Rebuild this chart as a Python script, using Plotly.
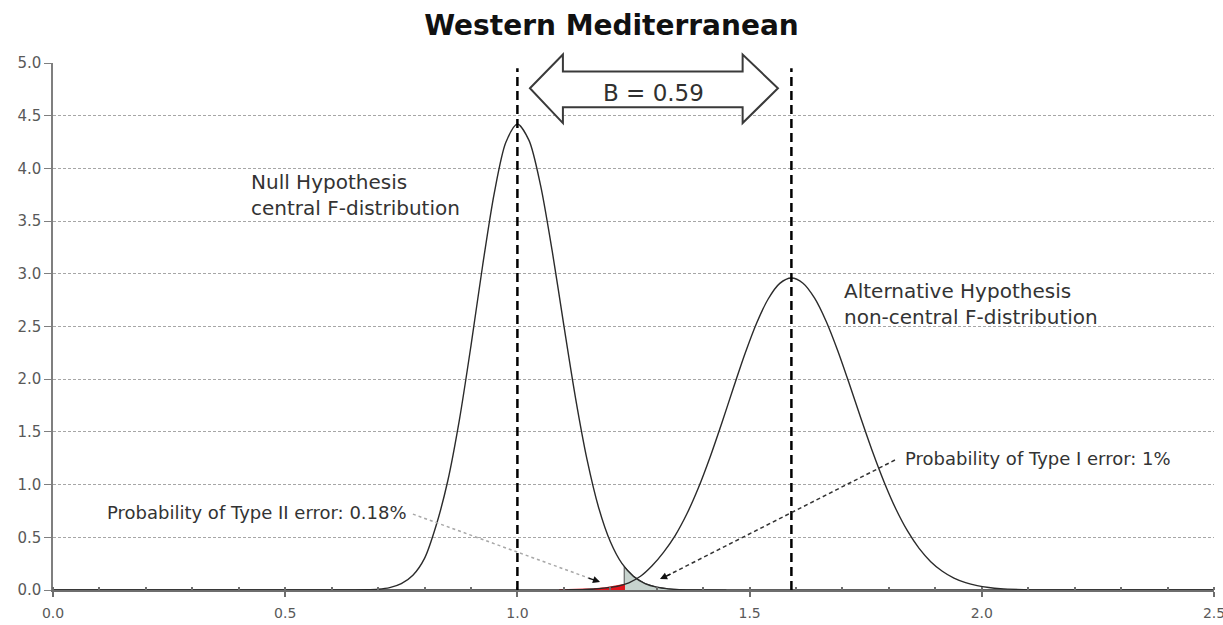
import plotly.graph_objects as go

# ---------------- data ----------------
null_x = [0.0, 0.6, 0.65, 0.675, 0.7, 0.725, 0.75, 0.775, 0.8, 0.825, 0.85, 0.875, 0.9,
          0.925, 0.95, 0.975, 1.0, 1.025, 1.05, 1.075, 1.1, 1.125, 1.15, 1.175, 1.2,
          1.225, 1.25, 1.275, 1.3, 1.325, 1.35, 1.4, 1.45, 1.5, 2.5]
null_y = [0.0, 0.0, 0.0005, 0.002, 0.007, 0.022, 0.06, 0.14, 0.30, 0.612, 1.034, 1.612, 2.317,
          3.074, 3.761, 4.245, 4.42, 4.266, 3.837, 3.215, 2.510, 1.826, 1.237, 0.781, 0.460,
          0.252, 0.129, 0.061, 0.027, 0.011, 0.004, 0.001, 0.0, 0.0, 0.0]

alt_x = [0.0, 1.0, 1.04, 1.09, 1.115, 1.14, 1.165, 1.19, 1.215, 1.24, 1.265, 1.29, 1.315,
         1.34, 1.365, 1.39, 1.415, 1.44, 1.465, 1.49, 1.515, 1.54, 1.565, 1.59, 1.615, 1.64,
         1.665, 1.69, 1.715, 1.74, 1.765, 1.79, 1.815, 1.84, 1.865, 1.89, 1.915, 1.94, 1.965,
         1.99, 2.015, 2.04, 2.09, 2.14, 2.19, 2.3, 2.5]
alt_y = [0.0, 0.0, 0.0, 0.0005, 0.002, 0.004, 0.009, 0.02, 0.035, 0.068, 0.13, 0.23, 0.36,
         0.519, 0.723, 0.972, 1.262, 1.582, 1.916, 2.241, 2.531, 2.761, 2.909, 2.96, 2.911, 2.769,
         2.548, 2.268, 1.952, 1.625, 1.309, 1.020, 0.768, 0.560, 0.395, 0.269, 0.178, 0.113, 0.070,
         0.042, 0.024, 0.013, 0.004, 0.001, 0.0, 0.0, 0.0]

# rejection region of the null (Type I error) and acceptance tail of the alternative (Type II error)
type1_x = [1.23, 1.23, 1.25, 1.275, 1.3, 1.325, 1.35, 1.4, 1.45]
type1_y = [0.0, 0.225, 0.129, 0.061, 0.027, 0.011, 0.004, 0.001, 0.0]
type2_x = [1.09, 1.115, 1.14, 1.165, 1.19, 1.215, 1.23, 1.23]
type2_y = [0.0005, 0.002, 0.004, 0.009, 0.02, 0.035, 0.05, 0.0]

null_mean = 1.0
alt_mean = 1.59
B = 0.59

title_text = "Western Mediterranean"
null_label = "Null Hypothesis<br>central F-distribution"
alt_label = "Alternative Hypothesis<br>non-central F-distribution"
type1_label = "Probability of Type I error: 1%"
type2_label = "Probability of Type II error: 0.18%"

x_ticks = [0.0, 0.5, 1.0, 1.5, 2.0, 2.5]
y_ticks = [0.0, 0.5, 1.0, 1.5, 2.0, 2.5, 3.0, 3.5, 4.0, 4.5, 5.0]

# ---------------- figure ----------------
FONT = "DejaVu Sans"
CURVE = "#2b2b2b"

fig = go.Figure()

fig.add_trace(go.Scatter(x=type1_x, y=type1_y, mode="lines", fill="toself",
                         fillcolor="#c7d3ce", line=dict(color="#4d4d4d", width=1),
                         hoverinfo="skip", showlegend=False))
fig.add_trace(go.Scatter(x=type2_x, y=type2_y, mode="lines", fill="toself",
                         fillcolor="#e3141c", line=dict(color="#e3141c", width=1.5),
                         hoverinfo="skip", showlegend=False))
fig.add_trace(go.Scatter(x=null_x, y=null_y, mode="lines", line=dict(color=CURVE, width=1.4, shape="spline", smoothing=0.8),
                         showlegend=False, name="Null"))
fig.add_trace(go.Scatter(x=alt_x, y=alt_y, mode="lines", line=dict(color=CURVE, width=1.4, shape="spline", smoothing=0.8),
                         showlegend=False, name="Alternative"))

# dashed vertical lines at the two means
for xm in (null_mean, alt_mean):
    fig.add_shape(type="line", xref="x", yref="y", x0=xm, x1=xm, y0=0, y1=4.95,
                  line=dict(color="black", width=2.5, dash="9px,5px"), layer="above")

# block double arrow between the means (B)
xl_tip = null_mean + 0.027
xl_base = null_mean + 0.098
xr_base = alt_mean - 0.105
xr_tip = alt_mean - 0.029
y_head_top, y_body_top, y_mid, y_body_bot, y_head_bot = 1.016, 0.984, 0.952, 0.916, 0.886
path = (f"M {xl_tip} {y_mid} L {xl_base} {y_head_top} L {xl_base} {y_body_top} "
        f"L {xr_base} {y_body_top} L {xr_base} {y_head_top} L {xr_tip} {y_mid} "
        f"L {xr_base} {y_head_bot} L {xr_base} {y_body_bot} L {xl_base} {y_body_bot} "
        f"L {xl_base} {y_head_bot} Z")
fig.add_shape(type="path", xref="x", yref="paper", path=path,
              line=dict(color="#3a3a3a", width=2), fillcolor="white", layer="above")
fig.add_annotation(x=(null_mean + alt_mean) / 2 - 0.003, y=4.72, xref="x", yref="y",
                   text=f"B = {B:.2f}", showarrow=False,
                   font=dict(family=FONT, size=23, color="#303030"))

# text labels
fig.add_annotation(x=0.422, y=3.75, xref="x", yref="y", text=null_label, showarrow=False,
                   xanchor="left", yanchor="middle", align="left",
                   font=dict(family=FONT, size=20, color="#333333"))
fig.add_annotation(x=1.70, y=2.71, xref="x", yref="y", text=alt_label, showarrow=False,
                   xanchor="left", yanchor="middle", align="left",
                   font=dict(family=FONT, size=20, color="#333333"))
fig.add_annotation(x=1.83, y=1.25, xref="x", yref="y", text=type1_label, showarrow=False,
                   xanchor="left", yanchor="middle",
                   font=dict(family=FONT, size=18, color="#333333"))
fig.add_annotation(x=0.112, y=0.74, xref="x", yref="y", text=type2_label, showarrow=False,
                   xanchor="left", yanchor="middle",
                   font=dict(family=FONT, size=18, color="#333333"))

# pointer lines (dashed / dotted) with arrowheads
fig.add_shape(type="line", xref="x", yref="y", x0=0.775, y0=0.72, x1=1.165, y1=0.095,
              line=dict(color="#a8a8a8", width=1.5, dash="dot"), layer="above")
fig.add_annotation(x=1.178, y=0.076, ax=1.150, ay=0.118, xref="x", yref="y", axref="x", ayref="y",
                   text="", showarrow=True, arrowhead=2, arrowsize=1.1, arrowwidth=1.3,
                   arrowcolor="#111111")
fig.add_shape(type="line", xref="x", yref="y", x0=1.813, y0=1.233, x1=1.32, y1=0.13,
              line=dict(color="#333333", width=1.5, dash="4px,3px"), layer="above")
fig.add_annotation(x=1.307, y=0.104, ax=1.333, ay=0.158, xref="x", yref="y", axref="x", ayref="y",
                   text="", showarrow=True, arrowhead=2, arrowsize=1.1, arrowwidth=1.3,
                   arrowcolor="#111111")

fig.update_layout(
    width=1223, height=625,
    margin=dict(l=53, r=9, t=63, b=35, autoexpand=False),
    paper_bgcolor="white", plot_bgcolor="white",
    title=dict(text=f"<b>{title_text}</b>", x=0.5, xref="container", xanchor="center",
               y=1 - 25 / 625, yref="container", yanchor="middle",
               font=dict(family=FONT, size=28, color="#111111")),
    showlegend=False,
)
fig.update_xaxes(range=[0, 2.5], tickvals=x_ticks, ticktext=[f"{v:.1f}" for v in x_ticks],
                 showgrid=False, zeroline=False, showline=True, linecolor="#6e6e6e", linewidth=2,
                 ticks="outside", ticklen=5, tickwidth=1.5, tickcolor="#6e6e6e",
                 ticklabelstandoff=4, ticklabeloverflow="allow", automargin=False,
                 minor=dict(dtick=0.1, tick0=0, ticks="inside", ticklen=3, tickcolor="#6e6e6e", showgrid=False),
                 tickfont=dict(family=FONT, size=14, color="#595959"), fixedrange=True)
fig.update_yaxes(range=[0, 5], tickvals=y_ticks, ticktext=[f"{v:.1f}" for v in y_ticks],
                 showgrid=True, gridcolor="#a6a6a6", gridwidth=1, griddash="3px,2px",
                 zeroline=False, showline=True, linecolor="#7f7f7f", linewidth=1.5,
                 ticks="outside", ticklen=7, tickwidth=1.2, tickcolor="#7f7f7f", automargin=False,
                 tickfont=dict(family=FONT, size=15, color="#595959"), fixedrange=True)

fig.write_html("out.html")
